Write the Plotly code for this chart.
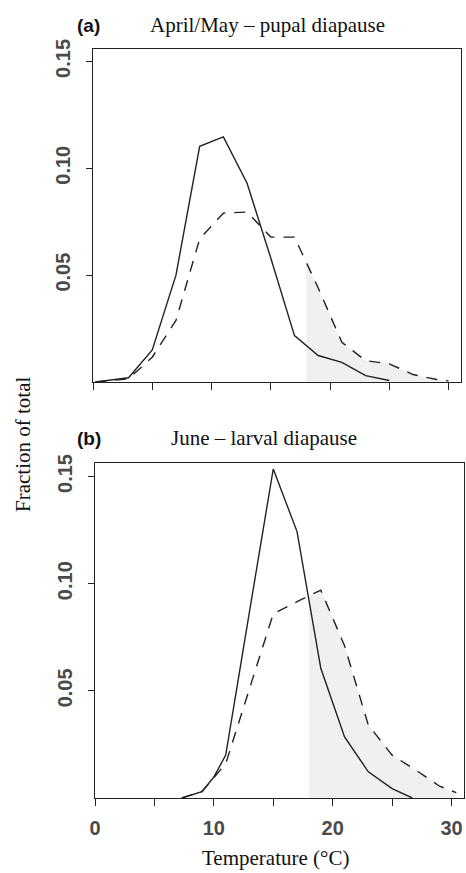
import plotly.graph_objects as go

# ---------------- data ----------------
# Panel (a): April/May - pupal diapause
a_solid_t = [0.2, 3, 5, 7, 9, 11, 13, 15, 17, 19, 21, 23, 25]
a_solid_f = [0.0, 0.002, 0.015, 0.050, 0.1103, 0.1147, 0.093, 0.058, 0.0217, 0.0124, 0.0092, 0.003, 0.0007]
a_dash_t = [0.2, 3, 5, 7, 9, 11, 13, 15, 17, 19, 21, 23, 25, 27, 29, 30]
a_dash_f = [0.0, 0.0015, 0.0116, 0.0288, 0.067, 0.079, 0.0795, 0.0678, 0.0678, 0.044, 0.0186, 0.010, 0.0085, 0.0035, 0.0012, 0.0005]

# Panel (b): June - larval diapause
b_solid_t = [7.3, 9, 10, 11, 13, 15, 17, 19, 21, 23, 25, 26.7]
b_solid_f = [0.0, 0.003, 0.0098, 0.020, 0.087, 0.1535, 0.1243, 0.0605, 0.0285, 0.0122, 0.0044, 0.0]
b_dash_t = [7.3, 9, 11, 13, 15, 17, 19, 21, 23, 25, 27, 29, 30.4]
b_dash_f = [0.0, 0.003, 0.016, 0.051, 0.086, 0.0916, 0.097, 0.071, 0.034, 0.020, 0.013, 0.0055, 0.0025]

# shaded area (T >= 18 under dashed curve); top value read at 18 degC
shade_from = 18
a_shade_top_at_from = 0.0555
b_shade_top_at_from = 0.094

x_tickvals = [0, 5, 10, 15, 20, 25, 30]
x_ticktext_b = ["0", "", "10", "", "20", "", "30"]
y_tickvals = [0.05, 0.10, 0.15]
y_ticktext = ["0.05", "0.10", "0.15"]

panel_letters = ["(a)", "(b)"]
panel_titles = ["April/May \u2013 pupal diapause", "June \u2013 larval diapause"]
x_title = "Temperature (\u00b0C)"
y_title = "Fraction of total"

# ---------------- figure ----------------
W, H = 466, 873
LINE = "#222222"
SHADE = "#eff0f2"
SERIF = "Liberation Serif, Times New Roman, serif"
SANS = "Liberation Sans, Arial, sans-serif"
TICKFONT = dict(family=SANS, size=20, color="#4a4a4a", weight="bold")

fig = go.Figure()


def shade_xy(ts, fs, top):
    xs = [shade_from] + [t for t in ts if t > shade_from]
    ys = [top] + [f for t, f in zip(ts, fs) if t > shade_from]
    return xs, ys


for i, (st, sf, dt, df, top) in enumerate([
    (a_solid_t, a_solid_f, a_dash_t, a_dash_f, a_shade_top_at_from),
    (b_solid_t, b_solid_f, b_dash_t, b_dash_f, b_shade_top_at_from),
]):
    xa = "x" if i == 0 else "x2"
    ya = "y" if i == 0 else "y2"
    sx, sy = shade_xy(dt, df, top)
    fig.add_trace(go.Scatter(x=sx, y=sy, mode="none", fill="tozeroy",
                             fillcolor=SHADE, xaxis=xa, yaxis=ya,
                             showlegend=False, hoverinfo="skip"))
    fig.add_trace(go.Scatter(x=dt, y=df, mode="lines",
                             line=dict(color=LINE, width=1.4, dash="11px,9px"),
                             xaxis=xa, yaxis=ya, showlegend=False))
    fig.add_trace(go.Scatter(x=st, y=sf, mode="lines",
                             line=dict(color=LINE, width=1.4),
                             xaxis=xa, yaxis=ya, showlegend=False))


def px_x(p):
    return p / W


def px_y(p):
    return 1 - p / H


common_x = dict(range=[0, 31.05], tickmode="array", tickvals=x_tickvals,
                showline=True, linecolor="#222", linewidth=1.3, mirror=True,
                ticks="outside", ticklen=7, tickwidth=1.2, tickcolor="#222",
                showgrid=False, zeroline=False, automargin=False,
                tickfont=TICKFONT)
common_y = dict(tickmode="array", tickvals=y_tickvals, ticktext=y_ticktext,
                showline=True, linecolor="#222", linewidth=1.3, mirror=True,
                ticks="outside", ticklen=6, tickwidth=1.2, tickcolor="#222",
                showgrid=False, zeroline=False, tickangle=-90,
                ticklabelstandoff=8, automargin=False,
                tickfont=TICKFONT)


def note(text, x, y, font, angle=0):
    return dict(text=text, x=px_x(x), y=px_y(y), xref="paper", yref="paper",
                xanchor="center", yanchor="middle", showarrow=False,
                textangle=angle, font=font)


fig.update_layout(
    width=W, height=H,
    margin=dict(l=0, r=0, t=0, b=0, autoexpand=False),
    paper_bgcolor="white", plot_bgcolor="white",
    xaxis=dict(common_x, domain=[px_x(93), px_x(461)], anchor="y",
               ticktext=[""] * len(x_tickvals)),
    yaxis=dict(common_y, domain=[px_y(382), px_y(49)], anchor="x",
               range=[0, 0.1558]),
    xaxis2=dict(common_x, domain=[px_x(95), px_x(464)], anchor="y2",
                ticktext=x_ticktext_b, ticklabelstandoff=5),
    yaxis2=dict(common_y, domain=[px_y(798), px_y(463)], anchor="x2",
                range=[0, 0.1563]),
    annotations=[
        note("<b>%s</b>" % panel_letters[0], 88, 25,
             dict(family=SANS, size=19, color="#111")),
        note(panel_titles[0], 267, 25, dict(family=SERIF, size=21, color="#111")),
        note("<b>%s</b>" % panel_letters[1], 89, 438,
             dict(family=SANS, size=19, color="#111")),
        note(panel_titles[1], 264, 438, dict(family=SERIF, size=21, color="#111")),
        note(y_title, 23, 445, dict(family=SERIF, size=21, color="#111"), -90),
        note(x_title, 275, 858, dict(family=SERIF, size=21, color="#111")),
    ],
)

fig.write_html("out.html", config={"displayModeBar": False},
               post_script="document.body.style.margin='0';document.body.style.padding='0';")
